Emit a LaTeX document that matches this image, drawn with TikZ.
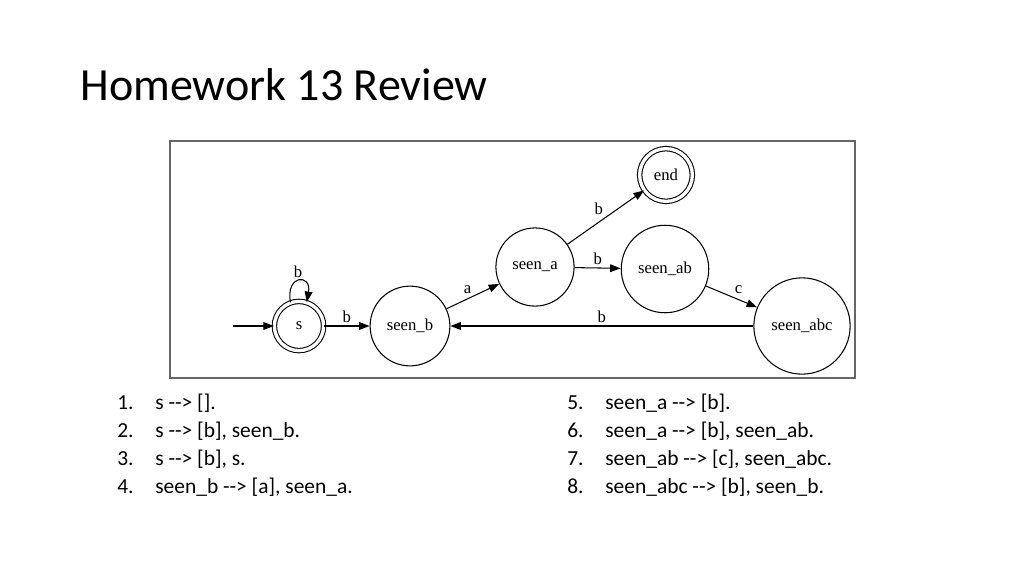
\documentclass[tikz,border=0pt]{standalone}
\usepackage{fontspec}
\setmainfont{Carlito}
\newfontfamily\graphfont{Liberation Serif}
\usetikzlibrary{arrows.meta}

\begin{document}
\begin{tikzpicture}[x=0.02cm,y=-0.02cm,
    state/.style={draw,circle,line width=0.6pt,inner sep=0pt,font=\graphfont\fontsize{9.5}{11}\selectfont},
    accepting/.style={double,double distance=1.9pt},
    trans/.style={line width=0.6pt,-{Triangle[length=6pt,width=4.4pt]}},
    lbl/.style={font=\graphfont\fontsize{9.5}{11}\selectfont,inner sep=1.5pt},
    rule/.style={anchor=base west,font=\fontsize{12.2}{14}\selectfont,inner sep=0pt}]
      \useasboundingbox (0,0) rectangle (1024,576) ;
      \node[anchor=base west,inner sep=0pt,font=\fontsize{26.2}{30}\selectfont] %
      (title) at (80,100) {Homework 13 Review} ;
      \draw[line width=0.7pt,gray!80!black] (170,141) rectangle (855,378) ;
      % states
      \node[state,accepting,minimum size=28pt] (s) at (299,326) {s} ;
      \node[state,minimum size=45.4pt] (seen_b) at (410,326) {seen\_b} ;
      \node[state,minimum size=44.5pt] (seen_a) at (535,267) {seen\_a} ;
      \node[state,minimum size=49.8pt] (seen_ab) at (665,269) {seen\_ab} ;
      \node[state,accepting,minimum size=30pt] (end) at (666,175) {end} ;
      \node[state,minimum size=54.8pt] (seen_abc) at (802,326) {seen\_abc} ;
      \coordinate (start) at (233,326) ;
      % transitions
      \draw[trans] (start) -- (s) ;
      \draw[trans] (s.110) to[out=100,in=80,looseness=4.5] (s.72) ;
      \node[lbl] (l0) at (298,272) {b} ;
      \draw[trans] (s) -- (seen_b) node[lbl,midway,above] (l1) {b} ;
      \draw[trans] (seen_b) -- (seen_a) node[lbl,midway,above,xshift=-3pt] (l2) {a} ;
      \draw[trans] (seen_a) -- (end) node[lbl,midway,above,xshift=-4pt] (l3) {b} ;
      \draw[trans] (seen_a) -- (seen_ab) node[lbl,midway,above] (l4) {b} ;
      \draw[trans] (seen_ab) -- (seen_abc) node[lbl,midway,above,xshift=4pt] (l5) {c} ;
      \draw[trans] (seen_abc) -- (seen_b) node[lbl,midway,above] (l6) {b} ;
      % rules
      \foreach \n/\t [count=\i] in {1/{s {-}{-}> [].},2/{s {-}{-}> [b], seen\_b.},%
          3/{s {-}{-}> [b], s.},4/{seen\_b {-}{-}> [a], seen\_a.}} {
        \node[rule] (n\n) at (117,{409+28*(\i-1)}) {\n.} ;
        \node[rule] (r\n) at (155,{409+28*(\i-1)}) {\t} ;
      }
      \foreach \n/\t [count=\i] in {5/{seen\_a {-}{-}> [b].},6/{seen\_a {-}{-}> [b], seen\_ab.},%
          7/{seen\_ab {-}{-}> [c], seen\_abc.},8/{seen\_abc {-}{-}> [b], seen\_b.}} {
        \node[rule] (n\n) at (567,{409+28*(\i-1)}) {\n.} ;
        \node[rule] (r\n) at (605,{409+28*(\i-1)}) {\t} ;
      }
    \end{tikzpicture}
\end{document}
